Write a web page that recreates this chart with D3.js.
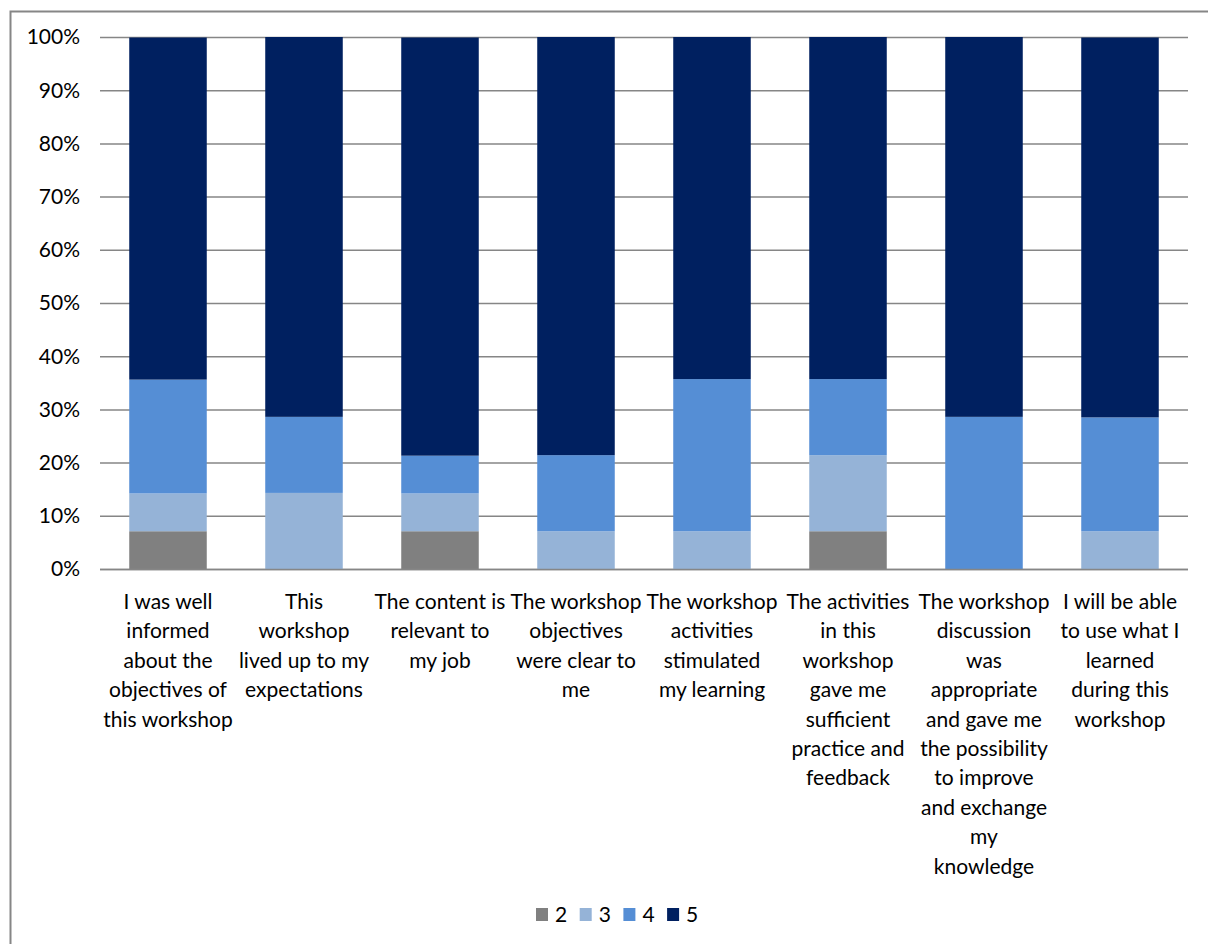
<!DOCTYPE html>
<html>
<head>
<meta charset="utf-8">
<script src="https://cdnjs.cloudflare.com/ajax/libs/d3/7.8.5/d3.min.js"></script>
<style>
  body { margin: 0; background: #fff; }
  text { font-family: Lato, "Open Sans", sans-serif; fill: #000; }
</style>
</head>
<body>
<svg id="chart" width="1208" height="944"></svg>
<script>
// categories (line breaks as in the original wrapping)
var categories = [
  "I was well\ninformed\nabout the\nobjectives of\nthis workshop",
  "This\nworkshop\nlived up to my\nexpectations",
  "The content is\nrelevant to\nmy job",
  "The workshop\nobjectives\nwere clear to\nme",
  "The workshop\nactivities\nstimulated\nmy learning",
  "The activities\nin this\nworkshop\ngave me\nsufficient\npractice and\nfeedback",
  "The workshop\ndiscussion\nwas\nappropriate\nand gave me\nthe possibility\nto improve\nand exchange\nmy\nknowledge",
  "I will be able\nto use what I\nlearned\nduring this\nworkshop"
];
var seriesNames = ["2", "3", "4", "5"];
var seriesColors = ["#808080", "#95b3d7", "#558ed5", "#002060"];
// share of answers (%)
var score2 = [7.1, 0, 7.1, 0, 0, 7.1, 0, 0];
var score3 = [7.1, 14.3, 7.1, 7.1, 7.1, 14.3, 0, 7.1];
var score4 = [21.4, 14.3, 7.1, 14.3, 28.6, 14.3, 28.6, 21.4];
var score5 = [64.3, 71.4, 78.6, 78.6, 64.3, 64.3, 71.4, 71.4];
var yTicks = [0, 10, 20, 30, 40, 50, 60, 70, 80, 90, 100];

var svg = d3.select("#chart");

// outer chart border (left + top only visible)
svg.append("path")
  .attr("d", "M10.5,944 L10.5,11.5 L1208,11.5")
  .attr("fill", "none").attr("stroke", "#868686").attr("stroke-width", 2);

var plotLeft = 100, plotRight = 1188, plotTop = 37, plotBottom = 569;

var x = d3.scaleBand().domain(d3.range(categories.length))
  .range([plotLeft, plotRight]).paddingInner(0.43).paddingOuter(0.215);
var y = d3.scaleLinear().domain([0, 100]).range([plotBottom, plotTop]);

// gridlines
svg.append("g").selectAll("line").data(yTicks).enter().append("line")
  .attr("x1", plotLeft).attr("x2", plotRight)
  .attr("y1", function (d) { return y(d) + 0.5; })
  .attr("y2", function (d) { return y(d) + 0.5; })
  .attr("stroke", "#868686").attr("stroke-width", 1.5);

// y tick labels
svg.append("g").selectAll("text").data(yTicks).enter().append("text")
  .attr("x", 80).attr("y", function (d) { return y(d); })
  .attr("dy", "0.35em").attr("text-anchor", "end")
  .attr("font-size", 21)
  .text(function (d) { return d + "%"; });

// stacked bars
var rows = categories.map(function (c, i) {
  return { i: i, "2": score2[i], "3": score3[i], "4": score4[i], "5": score5[i] };
});
var stack = d3.stack().keys(seriesNames)(rows);

svg.append("g").selectAll("g").data(stack).enter().append("g")
  .attr("fill", function (d, k) { return seriesColors[k]; })
  .selectAll("rect").data(function (d) { return d; }).enter().append("rect")
  .attr("x", function (d) { return x(d.data.i); })
  .attr("width", x.bandwidth())
  .attr("y", function (d) { return y(d[1]); })
  .attr("height", function (d) { return y(d[0]) - y(d[1]); });

// redraw baseline on top
svg.append("line").attr("x1", plotLeft).attr("x2", plotRight)
  .attr("y1", y(0) + 0.5).attr("y2", y(0) + 0.5)
  .attr("stroke", "#868686").attr("stroke-width", 1.5);

// category labels
var labels = svg.append("g").selectAll("text").data(categories).enter().append("text")
  .attr("text-anchor", "middle").attr("font-size", 21)
  .attr("transform", function (d, i) { return "translate(" + (x(i) + x.bandwidth() / 2) + ",609)"; });
labels.selectAll("tspan").data(function (d) { return d.split("\n"); }).enter().append("tspan")
  .attr("x", 0).attr("dy", function (d, j) { return j === 0 ? 0 : 29.4; })
  .text(function (d) { return d; });

// legend
var legend = svg.append("g").selectAll("g").data(seriesNames).enter().append("g")
  .attr("transform", function (d, k) { return "translate(" + (536 + k * 43.7) + ",908)"; });
legend.append("rect").attr("width", 12).attr("height", 13)
  .attr("fill", function (d, k) { return seriesColors[k]; });
legend.append("text").attr("x", 19).attr("y", 7).attr("dy", "0.35em")
  .attr("font-size", 21).text(function (d) { return d; });
</script>
</body>
</html>
